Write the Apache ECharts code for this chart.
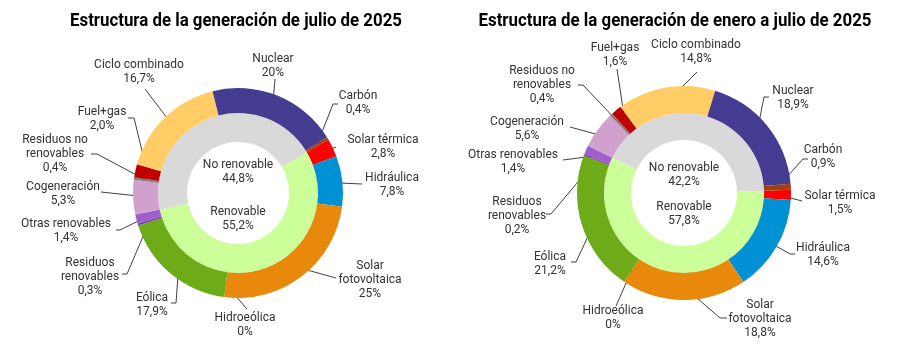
<!DOCTYPE html>
<html>
<head>
<meta charset="utf-8">
<script src="https://cdn.jsdelivr.net/npm/echarts@6/dist/echarts.min.js"></script>
<style>
  html, body { margin: 0; padding: 0; background: #fff; }
  #container1 { width: 900px; height: 351px; }
</style>
</head>
<body>
<div id="container1"></div>
<script>
// fuentes, en el orden en que aparecen (sentido horario desde la solar térmica)
var categories = ['Solar térmica', 'Hidráulica', 'Solar fotovoltaica', 'Hidroeólica', 'Eólica',
  'Residuos renovables', 'Otras renovables', 'Cogeneración', 'Residuos no renovables',
  'Fuel+gas', 'Ciclo combinado', 'Nuclear', 'Carbón'];
var julioValues = [2.8, 7.8, 25, 0, 17.9, 0.3, 1.4, 5.3, 0.4, 2.0, 16.7, 20, 0.4];
var julioText = ['2,8%', '7,8%', '25%', '0%', '17,9%', '0,3%', '1,4%', '5,3%', '0,4%', '2,0%', '16,7%', '20%', '0,4%'];
var eneroJulioValues = [1.5, 14.6, 18.8, 0, 21.2, 0.2, 1.4, 5.6, 0.4, 1.6, 14.8, 18.9, 0.9];
var eneroJulioText = ['1,5%', '14,6%', '18,8%', '0%', '21,2%', '0,2%', '1,4%', '5,6%', '0,4%', '1,6%', '14,8%', '18,9%', '0,9%'];

var grupos = ['Renovable', 'No renovable'];
var julioGrupoValues = [55.2, 44.8];
var julioGrupoText = ['55,2%', '44,8%'];
var eneroJulioGrupoValues = [57.8, 42.2];
var eneroJulioGrupoText = ['57,8%', '42,2%'];

var titulos = ['Estructura de la generación de julio de 2025', 'Estructura de la generación de enero a julio de 2025'];

var colores = ['#ff0000', '#0090d4', '#e8890b', '#2f6f9f', '#6eab18', '#7b3f9e', '#a05ecb',
  '#d0a1cd', '#7f7f7f', '#c00000', '#ffcc66', '#433c91', '#a0410d'];
var coloresGrupo = ['#ccff99', '#d9d9d9'];

var saltos = {
  'Solar fotovoltaica': 'Solar\nfotovoltaica',
  'Residuos renovables': 'Residuos\nrenovables',
  'Residuos no renovables': 'Residuos no\nrenovables'
};

// posiciones de etiquetas: [x, y, codoX, codoY, finX, finY]
var etiquetasJulio = [
  [383, 147, 336, 147, 336, 147],
  [392, 185, 362, 184, 362, 184],
  [370, 280, 336, 278, 336, 278],
  [245, 325, 247, 309, 247, 309],
  [152, 305, 176, 303, 171, 303],
  [90, 277, 127, 274, 122, 274],
  [66, 231, 120, 230, 116, 230],
  [63, 194, 101, 192, 101, 192],
  [55, 154, 97, 154, 91, 154],
  [102, 119, 134, 118, 128, 118],
  [139, 72, 145, 89, 145, 89],
  [273, 66, 275, 79, 275, 79],
  [358, 103, 333, 104, 338, 104]
];
var etiquetasEneroJulio = [
  [840, 203, 802, 201, 802, 201],
  [823, 255, 790, 254, 795, 254],
  [760, 319, 720, 318, 727, 318],
  [613, 318, 616, 306, 616, 306],
  [550, 264, 576, 262, 571, 262],
  [517, 216, 551, 214, 546, 214],
  [513, 162, 563, 160, 563, 160],
  [527, 129, 570, 127, 570, 127],
  [542, 85, 583, 85, 578, 85],
  [615, 55, 617, 69, 617, 69],
  [696, 52, 697, 72, 697, 72],
  [793, 98, 764, 97, 769, 97],
  [823, 157, 803, 159, 808, 159]
];

var graficos = [
  { cx: 238, cy: 193, r0: 51, r1: 80, r2: 105, start: 30.6, values: julioValues, text: julioText,
    grupo: julioGrupoValues, grupoText: julioGrupoText, pos: etiquetasJulio, centro: [-21, 26] },
  { cx: 684, cy: 193, r0: 53, r1: 80, r2: 107, start: 1.7, values: eneroJulioValues, text: eneroJulioText,
    grupo: eneroJulioGrupoValues, grupoText: eneroJulioGrupoText, pos: etiquetasEneroJulio, centro: [-18, 21] }
];

function puntoMedio(g, idx) {
  var total = 0, acum = 0;
  for (var i = 0; i < g.values.length; i++) {
    total += g.values[i];
    if (i < idx) acum += g.values[i];
  }
  var a = (g.start - 360 * (acum + g.values[idx] / 2) / total) * Math.PI / 180;
  var r = (g.r1 + g.r2) / 2;
  return [g.cx + r * Math.cos(a), g.cy - r * Math.sin(a)];
}

// el título original usa una letra estrecha: se comprime para ocupar el mismo ancho
var fuenteTitulo = 'bold 18px Roboto, sans-serif';
function escalaTitulo(texto, ancho) {
  var ctx = document.createElement('canvas').getContext('2d');
  ctx.font = fuenteTitulo;
  return ancho / ctx.measureText(texto).width;
}

var dom = document.getElementById('container1');
var myChart = echarts.init(dom);

var series = [];
graficos.forEach(function (g, k) {
  series.push({
    type: 'pie',
    center: [g.cx, g.cy],
    radius: [g.r0, g.r1],
    startAngle: g.start,
    clockwise: true,
    silent: true,
    avoidLabelOverlap: false,
    label: {
      show: true,
      position: 'inside',
      color: '#333',
      fontFamily: 'Roboto',
      fontSize: 12,
      lineHeight: 14,
      formatter: function (p) { return p.name + '\n' + g.grupoText[p.dataIndex]; }
    },
    labelLine: { show: false },
    labelLayout: function (p) {
      return { x: g.cx, y: g.cy + g.centro[p.dataIndex === 0 ? 1 : 0], align: 'center', verticalAlign: 'middle' };
    },
    itemStyle: { borderWidth: 0 },
    data: grupos.map(function (n, i) {
      return { name: n, value: g.grupo[i], itemStyle: { color: coloresGrupo[i] } };
    })
  });
  series.push({
    type: 'pie',
    center: [g.cx, g.cy],
    radius: [g.r1, g.r2],
    startAngle: g.start,
    clockwise: true,
    silent: true,
    avoidLabelOverlap: false,
    label: {
      show: true,
      position: 'outside',
      color: '#333',
      fontFamily: 'Roboto',
      fontSize: 12,
      lineHeight: 14,
      align: 'center',
      formatter: function (p) { return (saltos[p.name] || p.name) + '\n' + g.text[p.dataIndex]; }
    },
    labelLine: { show: true, lineStyle: { color: '#404040', width: 1 } },
    labelLayout: function (p) {
      var q = g.pos[p.dataIndex];
      return {
        x: q[0], y: q[1], align: 'center', verticalAlign: 'middle',
        labelLinePoints: [puntoMedio(g, p.dataIndex), [q[2], q[3]], [q[4], q[5]]]
      };
    },
    itemStyle: { borderWidth: 0 },
    data: categories.map(function (n, i) {
      return { name: n, value: g.values[i], itemStyle: { color: colores[i] } };
    })
  });
});

option = {
  animation: false,
  graphic: [
    { type: 'text', x: 236, y: 21, scaleX: escalaTitulo(titulos[0], 332),
      style: { text: titulos[0], fill: '#000', font: fuenteTitulo, textAlign: 'center', textVerticalAlign: 'middle' } },
    { type: 'text', x: 675, y: 21, scaleX: escalaTitulo(titulos[1], 393),
      style: { text: titulos[1], fill: '#000', font: fuenteTitulo, textAlign: 'center', textVerticalAlign: 'middle' } }
  ],
  series: series
};

myChart.setOption(option);
</script>
</body>
</html>
